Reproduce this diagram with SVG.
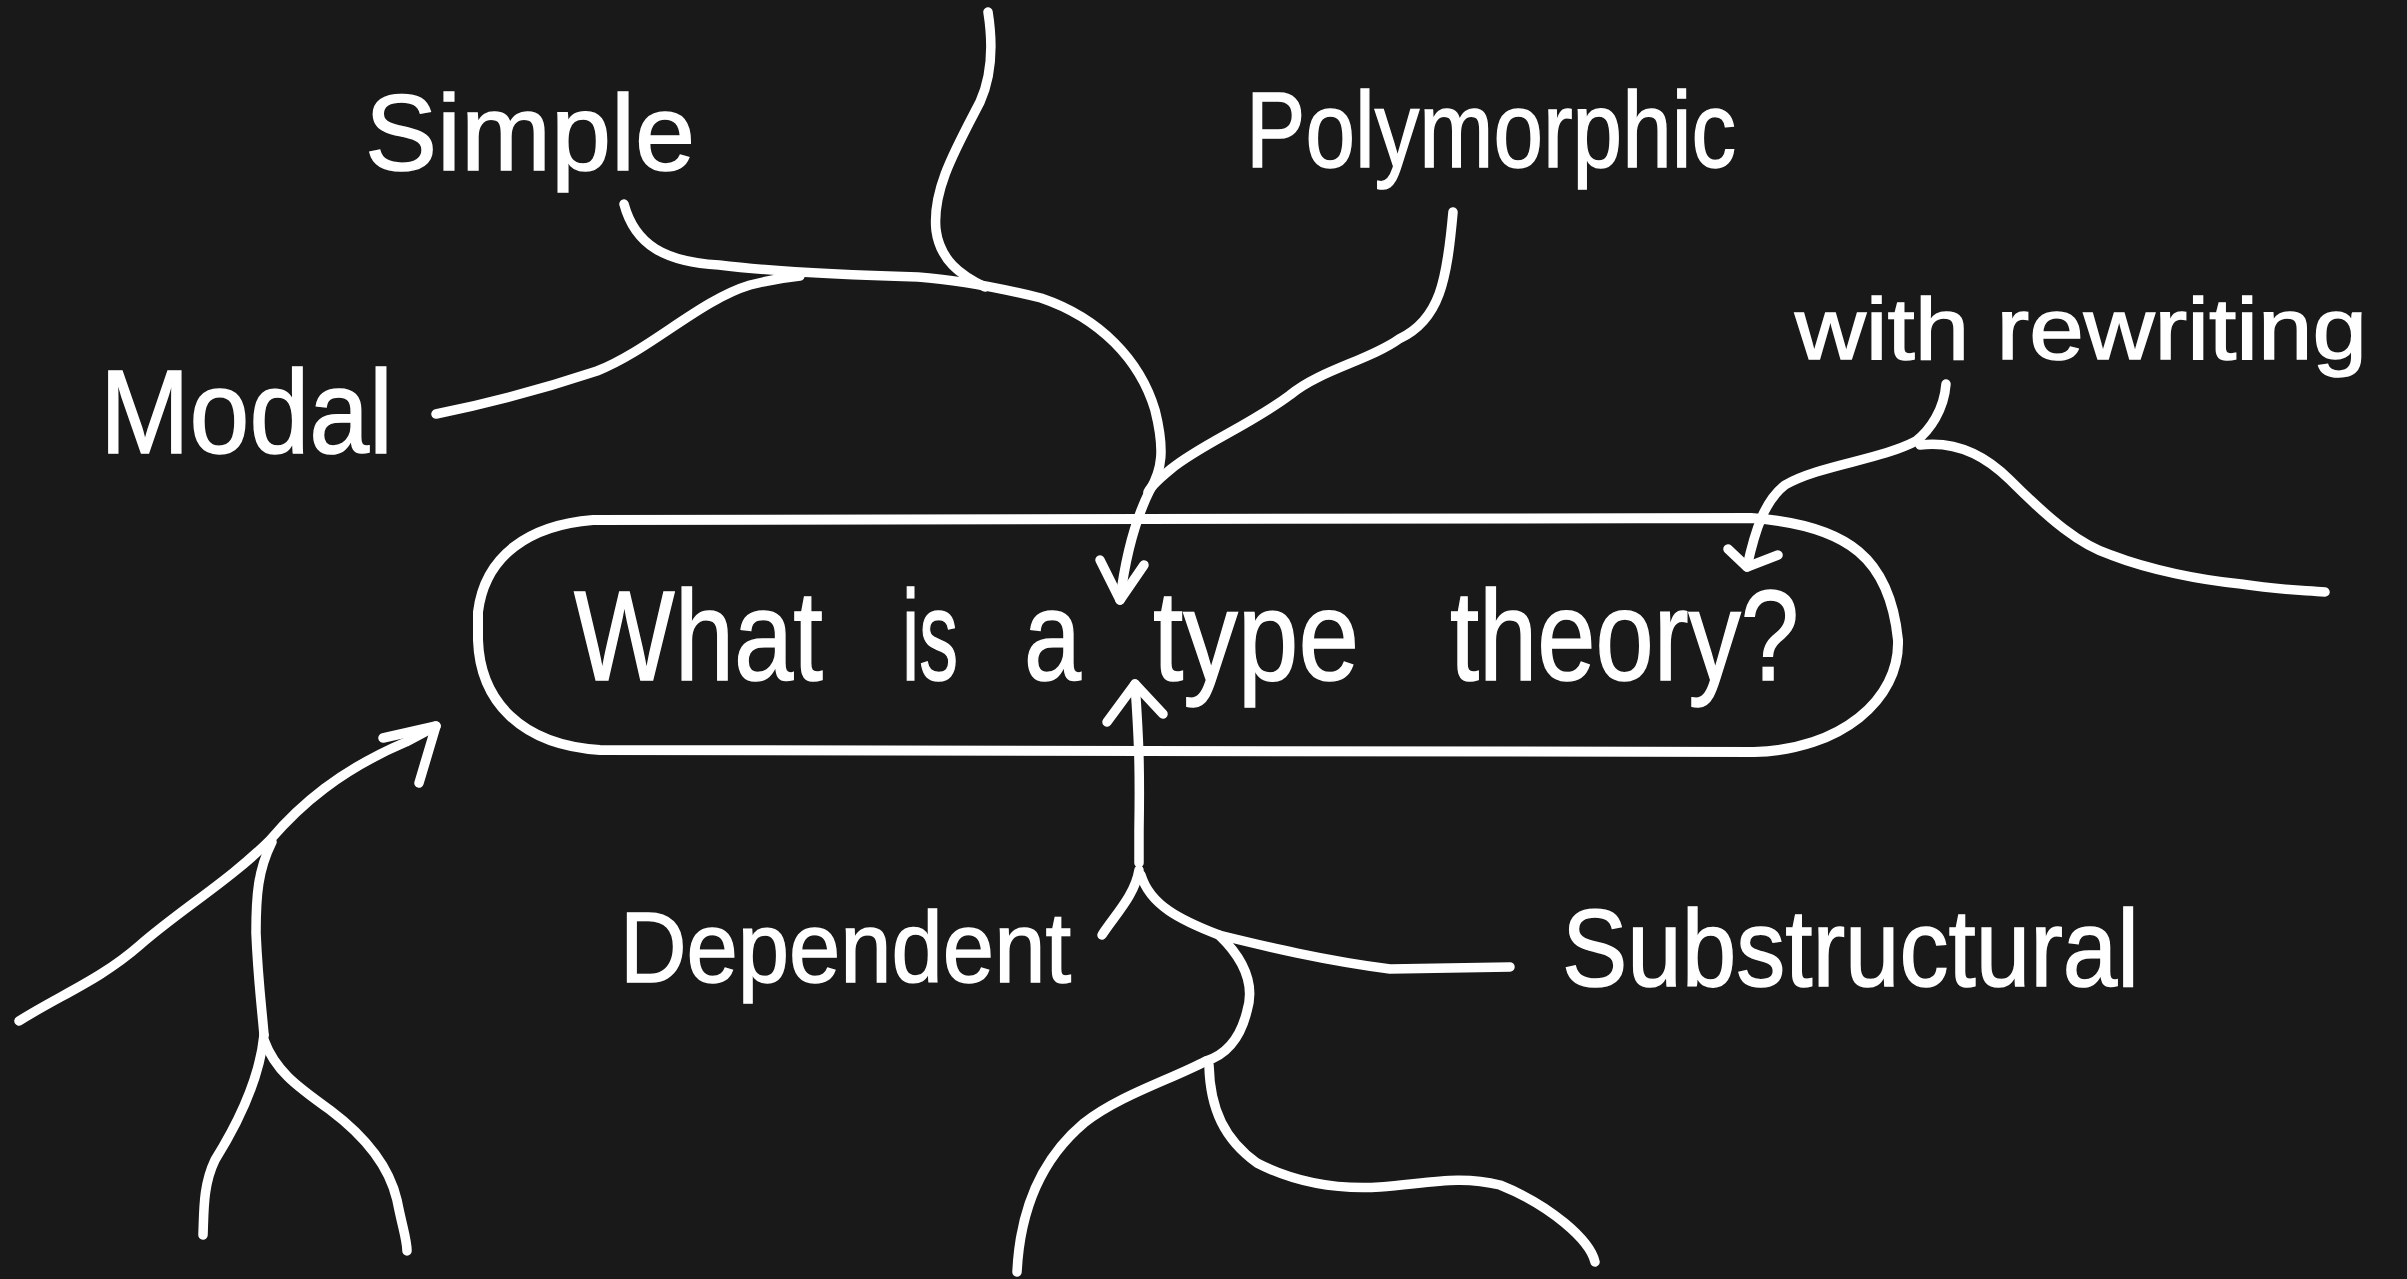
<svg xmlns="http://www.w3.org/2000/svg" width="2407" height="1279" viewBox="0 0 2407 1279">
<style>
.ln{fill:none;stroke:#fff;stroke-width:9.5;stroke-linecap:round;stroke-linejoin:round}
.bx{fill:none;stroke:#fff;stroke-width:10;stroke-linecap:round;stroke-linejoin:round}
.t{fill:#fff;stroke:#fff;stroke-width:1.5;font-family:"Liberation Sans","DejaVu Sans",sans-serif}
</style>
<rect x="0" y="0" width="2407" height="1279" fill="#191919"/>
<g id="connectors">
<path class="ln" d="M 624,204 C 635,245 665,262 719,265 C 760,270 840,275 918,277 C 960,280 1000,288 1041,298 C 1100,318 1140,360 1155,410 C 1165,450 1162,470 1150,490 C 1135,520 1125,560 1120,600"/>
<path class="ln" d="M 1100,560 L 1120,600 L 1144,565"/>
<path class="ln" d="M 988,12 C 994,50 990,80 980,102 C 955,150 932,190 936,230 C 940,260 960,275 985,287"/>
<path class="ln" d="M 436,414 C 480,405 540,390 597,371 C 650,350 700,300 750,285 C 770,280 790,277 800,276"/>
<path class="ln" d="M 1453,212 C 1447,280 1440,320 1399,339 C 1370,360 1320,370 1290,395 C 1250,425 1200,445 1171,469 C 1160,478 1152,485 1148,492"/>
<path class="ln" d="M 1946,384 C 1944,410 1930,430 1916,441 C 1880,460 1820,465 1785,485 C 1765,500 1755,530 1747,567"/>
<path class="ln" d="M 1728,549 L 1747,567 L 1778,555"/>
<path class="ln" d="M 1920,445 C 1960,440 1990,460 2010,480 C 2050,520 2080,545 2111,555 C 2150,570 2200,580 2241,584 C 2280,590 2300,590 2325,592"/>
<path class="ln" d="M 19,1021 C 60,995 100,980 140,945 C 180,910 230,880 270,840 C 300,805 340,770 406,742 L 436,726"/>
<path class="ln" d="M 383,738 L 436,726 L 419,783"/>
<path class="ln" d="M 272,842 C 258,870 256,895 256,933 C 258,980 262,1010 264,1035"/>
<path class="ln" d="M 264,1035 C 260,1075 240,1120 215,1160 C 203,1185 204,1210 203,1235"/>
<path class="ln" d="M 264,1040 C 275,1070 295,1085 330,1110 C 370,1140 390,1170 397,1200 C 403,1230 407,1240 407,1251"/>
<path class="ln" d="M 1135,684 C 1139,740 1140,770 1139,830 L 1139,863"/>
<path class="ln" d="M 1107,722 L 1135,684 L 1163,714"/>
<path class="ln" d="M 1139,870 C 1135,895 1115,915 1102,935"/>
<path class="ln" d="M 1141,875 C 1150,905 1180,920 1219,935 C 1260,945 1320,960 1390,969 L 1510,967"/>
<path class="ln" d="M 1219,935 C 1245,960 1255,985 1247,1011 C 1240,1040 1225,1055 1206,1061"/>
<path class="ln" d="M 1206,1061 C 1170,1080 1120,1095 1084,1123 C 1040,1160 1020,1210 1017,1272"/>
<path class="ln" d="M 1209,1065 C 1210,1110 1225,1140 1257,1163 C 1290,1180 1330,1190 1380,1187 C 1430,1183 1460,1175 1500,1185 C 1550,1205 1590,1240 1595,1262"/>
</g>
<g id="node-title">
<path class="bx" d="M 593,520 L 1751,518 C 1850,525 1890,560 1898,640 C 1900,700 1840,750 1754,752 L 600,750 C 520,745 480,700 478,640 L 478,612 C 485,555 530,525 593,520 Z"/>
<text class="t" y="680" font-size="128"><tspan x="574" textLength="249" lengthAdjust="spacingAndGlyphs">What</tspan><tspan x="902" textLength="56" lengthAdjust="spacingAndGlyphs">is</tspan><tspan x="1024" textLength="57" lengthAdjust="spacingAndGlyphs">a</tspan><tspan x="1153" textLength="206" lengthAdjust="spacingAndGlyphs">type</tspan><tspan x="1450" textLength="349" lengthAdjust="spacingAndGlyphs">theory?</tspan></text>
</g>
<g id="node-simple"><text class="t" x="365" y="170" font-size="108" textLength="330" lengthAdjust="spacingAndGlyphs">Simple</text></g>
<g id="node-modal"><text class="t" x="100" y="453" font-size="118" textLength="293" lengthAdjust="spacingAndGlyphs">Modal</text></g>
<g id="node-polymorphic"><text class="t" x="1246" y="167" font-size="108" textLength="490" lengthAdjust="spacingAndGlyphs">Polymorphic</text></g>
<g id="node-rewriting"><text class="t" x="1795" y="359" font-size="88" textLength="572" lengthAdjust="spacingAndGlyphs">with rewriting</text></g>
<g id="node-dependent"><text class="t" x="620" y="982" font-size="100" textLength="451" lengthAdjust="spacingAndGlyphs">Dependent</text></g>
<g id="node-substructural"><text class="t" x="1562" y="986" font-size="110" textLength="577" lengthAdjust="spacingAndGlyphs">Substructural</text></g>
</svg>
